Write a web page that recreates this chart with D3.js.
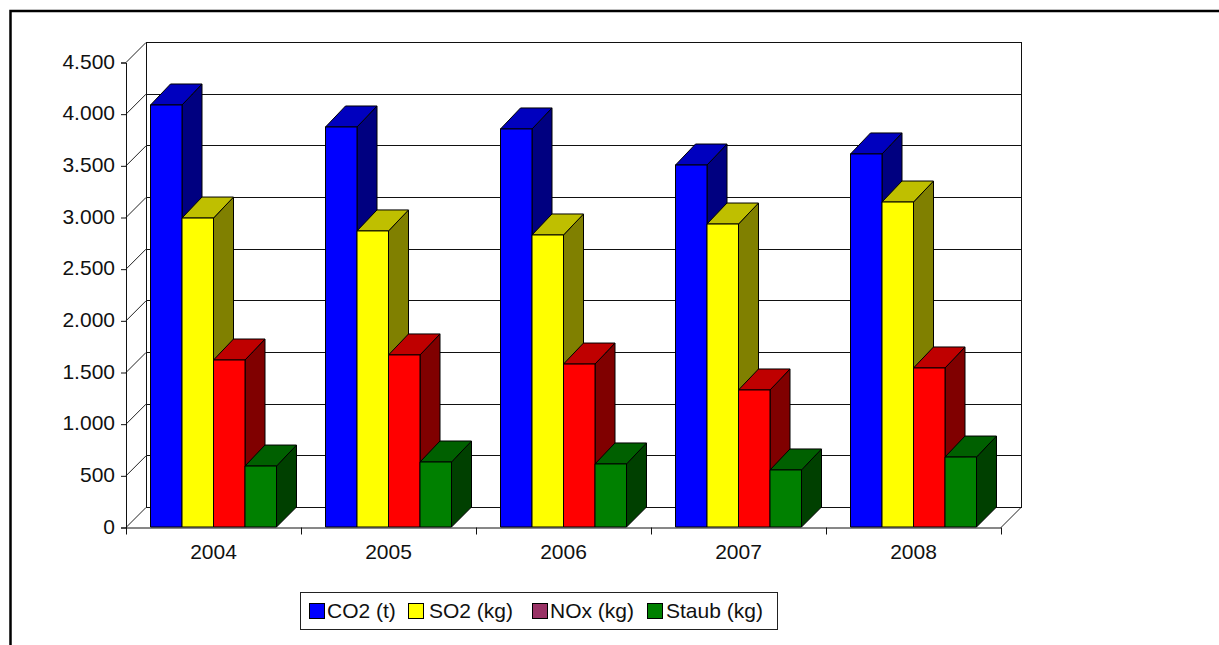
<!DOCTYPE html>
<html>
<head>
<meta charset="utf-8">
<script src="https://cdn.jsdelivr.net/npm/d3@7"></script>
<style>
    html, body { margin: 0; padding: 0; background: #fff; overflow: hidden; }
    text { font-family: "Liberation Sans", Arial, sans-serif; fill: #111; }
</style>
</head>
<body>
<svg id="svg" width="1219" height="645"></svg>
<script>
const years  = ['2004', '2005', '2006', '2007', '2008'];
const series = ['CO2 (t)', 'SO2 (kg)', 'NOx (kg)', 'Staub (kg)'];
const yTicks = [0, 500, 1000, 1500, 2000, 2500, 3000, 3500, 4000, 4500];

const co2   = [4084, 3871, 3852, 3503, 3610];
const so2   = [2990, 2865, 2826, 2932, 3145];
const nox   = [1616, 1665, 1577, 1326, 1539];
const staub = [590, 629, 610, 552, 677];
const values = [co2, so2, nox, staub];

const barColors    = ['#0000ff', '#ffff00', '#ff0000', '#008000'];
const legendColors = ['#0000ff', '#ffff00', '#993366', '#008000'];

// plot geometry
const plotLeft = 126, plotRight = 1001, plotBottom = 527, plotTop = 62;
const depthX = 20, depthY = 20, barDepthY = 21;
const fontSize = 21;

const svg = d3.select('#svg');
const de = d3.formatLocale({ decimal: ',', thousands: '.', grouping: [3], currency: ['', ' €'] });

const x = d3.scaleBand().domain(years).range([plotLeft, plotRight]);
const xInner = d3.scaleBand().domain(d3.range(series.length)).range([24.5, x.bandwidth() - 24.5]);
const y = d3.scaleLinear().domain([0, 4500]).range([plotBottom, plotTop]);

// outer frame, only top and left are in view
svg.append('path')
    .attr('d', 'M10.5,645V11H1219')
    .attr('fill', 'none')
    .attr('stroke', '#000')
    .attr('stroke-width', 2.5);

// --- Walls ---
const wall = svg.append('g').attr('fill', 'none').attr('stroke', '#111').attr('shape-rendering', 'crispEdges');

wall.selectAll('line.grid')
    .data(yTicks).join('line')
    .attr('class', 'grid')
    .attr('x1', plotLeft + depthX)
    .attr('x2', plotRight + depthX + 1)
    .attr('y1', d => y(d) - depthY + 0.5)
    .attr('y2', d => y(d) - depthY + 0.5);

wall.append('path')
    .attr('d', `M${plotLeft + depthX + 0.5},${y(0) - depthY}V${plotTop - depthY + 0.5}H${plotRight + depthX + 0.5}V${y(0) - depthY}`);

const slant = svg.append('g').attr('fill', 'none').attr('stroke', '#222');

slant.selectAll('line')
    .data(yTicks).join('line')
    .attr('x1', plotLeft)
    .attr('y1', d => y(d) + 0.5)
    .attr('x2', plotLeft + depthX)
    .attr('y2', d => y(d) - depthY + 0.5);

slant.append('line')
    .attr('x1', plotRight)
    .attr('y1', plotBottom + 0.5)
    .attr('x2', plotRight + depthX)
    .attr('y2', plotBottom - depthY + 0.5);

// --- Bars ---
const shade = (c, k) => {
    const r = d3.rgb(c);
    return d3.rgb(r.r * k, r.g * k, r.b * k).formatHex();
};

const groups = svg.selectAll('g.year')
    .data(years).join('g')
    .attr('class', 'year')
    .attr('transform', d => `translate(${x(d)},0)`);

const bars = groups.selectAll('g.bar')
    .data((d, i) => series.map((s, j) => ({ j, value: values[j][i] })))
    .join('g')
    .attr('class', 'bar')
    .attr('stroke', '#000')
    .attr('stroke-linejoin', 'round');

// side face
bars.append('path')
    .attr('fill', d => shade(barColors[d.j], 0.5))
    .attr('d', d => {
        const x1 = xInner(d.j) + xInner.bandwidth();
        return `M${x1},${y(d.value)}l${depthX},${-barDepthY}V${y(0) - depthY}L${x1},${y(0)}Z`;
    });

// top face
bars.append('path')
    .attr('fill', d => shade(barColors[d.j], 0.75))
    .attr('d', d => {
        const w = xInner.bandwidth();
        return `M${xInner(d.j)},${y(d.value)}l${depthX},${-barDepthY}h${w}l${-depthX},${barDepthY}Z`;
    });

// front face
bars.append('rect')
    .attr('fill', d => barColors[d.j])
    .attr('x', d => xInner(d.j))
    .attr('y', d => y(d.value))
    .attr('width', xInner.bandwidth())
    .attr('height', d => y(0) - y(d.value));

// --- Axes ---
const yAxis = d3.axisLeft(y)
    .tickValues(yTicks)
    .tickFormat(de.format(',d'))
    .tickSize(5)
    .tickPadding(6);

const yG = svg.append('g')
    .attr('transform', `translate(${plotLeft},0.5)`)
    .call(yAxis);
yG.selectAll('text').attr('font-size', fontSize).attr('fill', '#111').attr('transform', 'translate(0,-1)');
yG.selectAll('line, path').attr('stroke', '#111');

const xAxis = d3.axisBottom(x).tickSize(0).tickPadding(17);

const xG = svg.append('g')
    .attr('transform', `translate(0,${plotBottom + 0.5})`)
    .call(xAxis);
xG.selectAll('text').attr('font-size', fontSize).attr('fill', '#111');
xG.select('.domain').attr('stroke', '#111');

// tick marks sit between the years
xG.selectAll('line.edge')
    .data(d3.range(years.length + 1)).join('line')
    .attr('class', 'edge')
    .attr('stroke', '#111')
    .attr('x1', d => plotLeft + d * x.step() + 0.5)
    .attr('x2', d => plotLeft + d * x.step() + 0.5)
    .attr('y1', 0)
    .attr('y2', 7);

// --- Legend ---
const legendX = [309, 408, 532, 647];
const legendLabelX = [327, 429, 550, 666];

const legend = svg.append('g');

legend.append('rect')
    .attr('x', 300.5)
    .attr('y', 592.5)
    .attr('width', 477)
    .attr('height', 37)
    .attr('fill', '#fff')
    .attr('stroke', '#222');

legend.selectAll('rect.swatch')
    .data(series).join('rect')
    .attr('class', 'swatch')
    .attr('x', (d, i) => legendX[i] + 0.5)
    .attr('y', 603.5)
    .attr('width', 15)
    .attr('height', 15)
    .attr('fill', (d, i) => legendColors[i])
    .attr('stroke', '#000');

legend.selectAll('text')
    .data(series).join('text')
    .attr('x', (d, i) => legendLabelX[i])
    .attr('y', 617.5)
    .attr('font-size', fontSize)
    .text(d => d);
</script>
</body>
</html>
